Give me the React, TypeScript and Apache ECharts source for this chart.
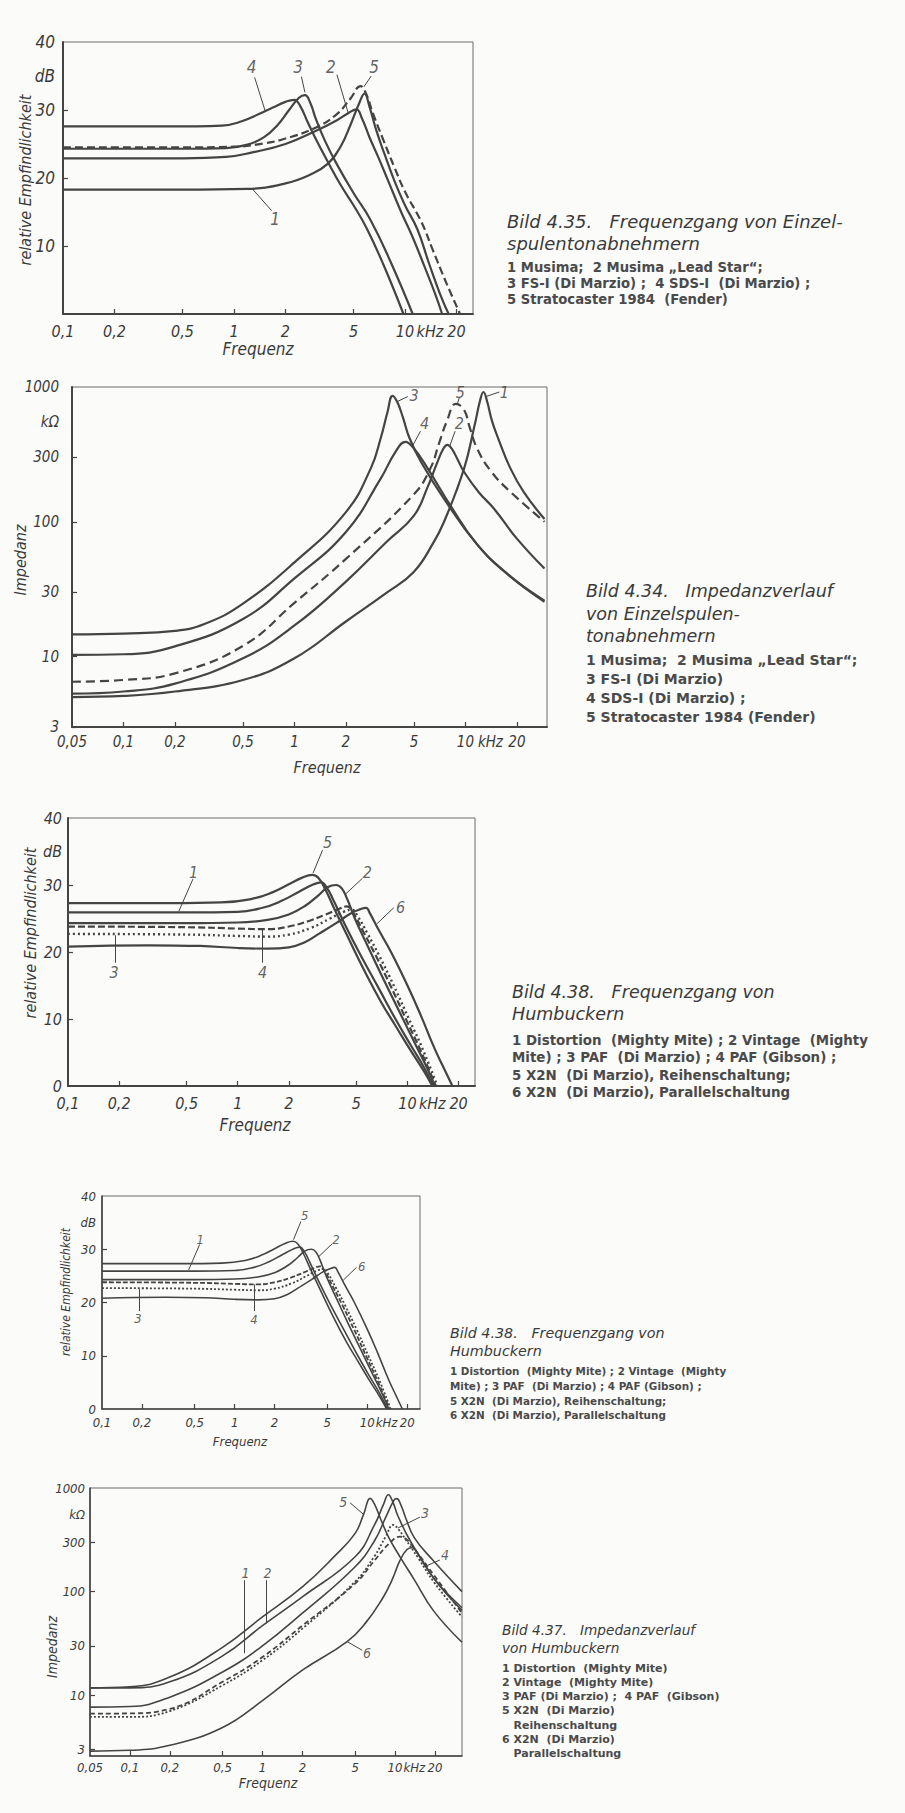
import React, { useEffect, useRef } from "react";
import * as echarts from "echarts";

// ---------- tick labels ----------
const freqTicksA = [0.1, 0.2, 0.5, 1, 2, 5, 10, 14, 20];
const freqLabelsA = ["0,1", "0,2", "0,5", "1", "2", "5", "10", "kHz", "20"];
const freqTicksB = [0.05, 0.1, 0.2, 0.5, 1, 2, 5, 10, 14, 20];
const freqLabelsB = ["0,05", "0,1", "0,2", "0,5", "1", "2", "5", "10", "kHz", "20"];
const dbTicks = [0, 10, 20, 30, 35, 40];
const dbLabels = ["0", "10", "20", "30", "dB", "40"];
const dbTicksNoZero = [10, 20, 30, 35, 40];
const dbLabelsNoZero = ["10", "20", "30", "dB", "40"];
const impTicks = [3, 10, 30, 100, 300, 550, 1000];
const impLabels = ["3", "10", "30", "100", "300", "kΩ", "1000"];

// ---------- Bild 4.35: Frequenzgang Einzelspulen (kHz, dB) ----------
const s435_1 = [[0.1, 18.3], [0.5, 18.3], [1.2, 18.4], [2, 19.2], [2.8, 20.5], [3.5, 22], [4.2, 24.6], [4.8, 27.8], [5.4, 31], [5.8, 32.4], [6.2, 30.5], [6.8, 27], [7.6, 23.5], [8.7, 19.5], [10, 16], [11.8, 12.5], [13.8, 7.5], [16, 3], [18, 0]];
const s435_2 = [[0.1, 22.9], [0.5, 22.9], [0.9, 23.1], [1.3, 23.8], [2, 25], [3, 26.9], [4, 28.5], [4.7, 29.6], [5.2, 30.1], [5.6, 28.8], [6.2, 26], [7, 23], [8, 19.5], [9.5, 15], [11, 11.5], [13, 7], [15, 3], [16.5, 0]];
const s435_3 = [[0.1, 24.3], [0.5, 24.3], [0.9, 24.4], [1.2, 24.9], [1.5, 26], [1.8, 27.8], [2.1, 30], [2.4, 31.8], [2.6, 32.2], [2.8, 31], [3.0, 28.8], [3.4, 25.5], [4, 22], [5, 17.8], [6.3, 13.8], [8.3, 7.5], [11.1, 0]];
const s435_4 = [[0.1, 27.6], [0.3, 27.6], [0.6, 27.6], [0.85, 27.7], [1.1, 28.3], [1.4, 29.4], [1.7, 30.4], [2.0, 31.2], [2.25, 31.5], [2.45, 30.5], [2.7, 28.2], [3.0, 25.8], [3.5, 22.6], [4.2, 19], [5, 16], [6, 12.5], [7.5, 7.2], [9.8, 0]];
const s435_5 = [[0.1, 24.5], [0.5, 24.5], [1, 24.6], [1.5, 25.1], [2, 25.8], [3, 27.4], [4, 29.4], [4.8, 31.7], [5.5, 33.5], [5.9, 32.5], [6.5, 29.5], [7.5, 25.5], [8.7, 21.5], [10, 18], [12.5, 13.5], [14.5, 9.5], [17.5, 4.5], [21, 0]];

// ---------- Bild 4.34: Impedanz Einzelspulen (kHz, kOhm) ----------
const z434_1 = [[0.05, 5.0], [0.1, 5.1], [0.2, 5.5], [0.5, 6.7], [1, 9.7], [2, 18.2], [3.5, 30], [5, 42.6], [6.5, 70], [7.5, 100], [9.8, 246], [11.3, 515], [12.2, 800], [12.75, 918], [13.4, 780], [14.3, 560], [15.5, 420], [18.3, 250], [22, 165], [29, 105]];
const z434_2 = [[0.05, 5.3], [0.1, 5.5], [0.2, 6.3], [0.5, 9.7], [1, 17], [2, 36], [3.5, 72], [5, 111], [6, 180], [6.8, 270], [7.4, 345], [7.85, 372], [8.3, 350], [9, 290], [9.8, 235], [12, 165], [14.7, 125], [20, 75], [29, 45]];
const z434_3 = [[0.05, 14.6], [0.1, 14.8], [0.2, 15.5], [0.3, 17.5], [0.5, 24.7], [1, 50], [2, 118], [2.8, 250], [3.2, 420], [3.5, 650], [3.75, 860], [4.0, 770], [4.3, 600], [4.7, 420], [5.5, 278], [7.5, 148], [11.7, 68], [18, 40], [29, 26]];
const z434_4 = [[0.05, 10.3], [0.1, 10.4], [0.2, 11.9], [0.5, 19], [1, 38], [2, 84], [3.2, 210], [3.9, 330], [4.46, 392], [5, 350], [6, 250], [8.2, 131], [11.7, 68], [18, 40], [29, 25.5]];
const z434_5 = [[0.05, 6.5], [0.1, 6.7], [0.2, 7.5], [0.5, 12], [1, 25], [2, 53], [5, 160], [6.25, 250], [7, 380], [7.8, 560], [8.8, 750], [9.8, 680], [10.6, 500], [11.7, 350], [14, 240], [18.3, 167], [29, 100]];

// ---------- Bild 4.38: Frequenzgang Humbucker (kHz, dB) ----------
const h438_1 = [[0.1, 25.9], [0.5, 25.9], [1.0, 26.0], [1.4, 26.6], [1.8, 27.6], [2.3, 29], [2.8, 30.1], [3.1, 30.4], [3.35, 29.6], [3.7, 27.5], [4.3, 24], [5.3, 19.5], [6.8, 14.5], [8.5, 10], [10.5, 6], [12.5, 2.8], [14.2, 0]];
const h438_2 = [[0.1, 24.3], [0.5, 24.3], [1.0, 24.4], [1.5, 24.8], [2.0, 25.6], [2.5, 26.9], [3.0, 28.5], [3.4, 29.7], [3.8, 30], [4.1, 29.5], [4.4, 28], [4.9, 25], [5.8, 21], [7.2, 16], [9, 11], [11, 6.5], [13, 2.8], [14.5, 0]];
const h438_3 = [[0.1, 22.7], [0.5, 22.6], [1.0, 22.4], [1.5, 22.3], [2.0, 22.6], [2.7, 23.6], [3.5, 25], [4.2, 26], [4.7, 26.3], [5.1, 25.3], [5.8, 22.8], [6.8, 19.5], [8.3, 15], [10.2, 10], [12.3, 5.5], [15, 0]];
const h438_4 = [[0.1, 23.8], [0.5, 23.7], [1.0, 23.5], [1.5, 23.4], [2.0, 23.8], [2.6, 24.6], [3.3, 25.6], [4.0, 26.5], [4.4, 26.8], [4.8, 25.8], [5.5, 23], [6.5, 19.5], [8, 14.8], [10, 9.5], [12, 5.2], [14.7, 0]];
const h438_5 = [[0.1, 27.3], [0.4, 27.3], [0.8, 27.4], [1.2, 27.9], [1.6, 28.9], [2.0, 30.1], [2.4, 31.1], [2.75, 31.5], [3.0, 31], [3.3, 29.2], [3.7, 26.5], [4.5, 22], [5.5, 17.5], [7, 12.5], [8.5, 9], [10.5, 5.2], [12.5, 2.2], [14, 0]];
const h438_6 = [[0.1, 20.8], [0.3, 21], [0.6, 20.9], [1.0, 20.6], [1.5, 20.5], [2.0, 20.7], [2.5, 21.5], [3.0, 22.7], [3.8, 24.3], [4.6, 25.7], [5.3, 26.4], [5.7, 26.6], [6.0, 25.8], [6.8, 23.2], [8, 20], [10, 15], [12, 10.5], [14.5, 5.5], [16.5, 2.5], [18.4, 0]];

// ---------- Bild 4.37: Impedanz Humbucker (kHz, kOhm) ----------
const i437_1 = [[0.05, 7.7], [0.1, 7.8], [0.2, 9.6], [0.5, 16.8], [1, 30], [2, 62], [5, 174], [7, 310], [8.5, 520], [9.8, 760], [10.3, 790], [11, 700], [12, 520], [14, 330], [19.4, 200], [32, 100]];
const i437_2 = [[0.05, 11.8], [0.1, 11.8], [0.2, 13.5], [0.5, 24], [1, 47], [2, 89], [5, 217], [7, 440], [8.2, 700], [8.9, 860], [9.6, 740], [10.5, 540], [13, 310], [20, 130], [32, 66]];
const i437_3 = [[0.05, 6.2], [0.1, 6.2], [0.2, 7.05], [0.5, 12.5], [1, 21.8], [2, 44], [5, 125], [7, 220], [8.5, 340], [9.7, 440], [10.6, 400], [12, 320], [15, 210], [20, 120], [32, 57]];
const i437_4 = [[0.05, 6.65], [0.1, 6.7], [0.2, 7.4], [0.5, 13.5], [1, 23.4], [2, 47], [5, 120], [7, 200], [9, 290], [10.9, 340], [12.5, 310], [15, 230], [20, 140], [32, 62]];
const i437_5 = [[0.05, 11.8], [0.1, 12.1], [0.2, 15], [0.5, 29], [1, 57], [2, 111], [3.5, 220], [5, 365], [5.8, 560], [6.49, 795], [7, 700], [7.8, 500], [9, 330], [10.9, 217], [14, 130], [19.4, 66], [32, 32.5]];
const i437_6 = [[0.05, 2.9], [0.1, 2.95], [0.2, 3.3], [0.5, 4.9], [1, 8.9], [2, 17.5], [4.35, 33], [6, 50], [8, 85], [9.5, 130], [10.9, 200], [12.3, 255], [13.5, 265], [15, 230], [20, 130], [32, 70]];

// ---------- curve number annotations (data space) ----------
const notes435 = [
  { t: "4", at: [1.27, 36.3], from: [1.32, 34.8], to: [1.52, 29.9] },
  { t: "3", at: [2.37, 36.3], from: [2.48, 34.9], to: [2.6, 32.6] },
  { t: "2", at: [3.69, 36.3], from: [4.0, 35.2], to: [4.65, 29.6] },
  { t: "5", at: [6.6, 36.3], from: [6.35, 35], to: [5.75, 33.4] },
  { t: "1", at: [1.74, 14], from: [1.66, 15.2], to: [1.29, 18.3] },
];
const notes434 = [
  { t: "3", at: [5.0, 860], from: [4.6, 850], to: [4.0, 780] },
  { t: "4", at: [5.76, 532], from: [5.46, 470], to: [4.9, 365] },
  { t: "5", at: [9.35, 918], from: [9.2, 830], to: [9.0, 760] },
  { t: "2", at: [9.2, 532], from: [8.7, 470], to: [8.1, 365] },
  { t: "1", at: [16.9, 918], from: [15.8, 918], to: [13.2, 850] },
];
const notes438 = [
  { t: "5", at: [3.38, 36.3], from: [3.16, 35.2], to: [2.78, 31.8] },
  { t: "2", at: [5.8, 31.8], from: [5.43, 31.0], to: [4.3, 28.6] },
  { t: "6", at: [9.1, 26.7], from: [8.3, 26.6], to: [6.6, 24.2] },
  { t: "1", at: [0.55, 31.9], from: [0.545, 30.9], to: [0.45, 26.1] },
  { t: "3", at: [0.187, 17.0], from: [0.19, 18.4], to: [0.19, 22.5] },
  { t: "4", at: [1.4, 16.9], from: [1.4, 18.4], to: [1.4, 23.4] },
];
const notes437 = [
  { t: "5", at: [4.07, 732], from: [4.58, 720], to: [5.75, 560] },
  { t: "3", at: [16.8, 573], from: [15.4, 524], to: [10.5, 411] },
  { t: "4", at: [23.8, 225], from: [21.8, 202], to: [17.7, 180] },
  { t: "1", at: [0.745, 151], from: [0.73, 129], to: [0.73, 25.5] },
  { t: "2", at: [1.09, 151], from: [1.07, 129], to: [1.07, 49.6] },
  { t: "6", at: [6.15, 25.5], from: [5.65, 27.2], to: [4.35, 33] },
];

// ---------- captions ----------
const cap435 = ["Bild 4.35.   Frequenzgang von Einzel-", "spulentonabnehmern"];
const leg435 = ["1 Musima;  2 Musima „Lead Star“;", "3 FS-I (Di Marzio) ;  4 SDS-I  (Di Marzio) ;", "5 Stratocaster 1984  (Fender)"];
const cap434 = ["Bild 4.34.   Impedanzverlauf", "von Einzelspulen-", "tonabnehmern"];
const leg434 = ["1 Musima;  2 Musima „Lead Star“;", "3 FS-I (Di Marzio)", "4 SDS-I (Di Marzio) ;", "5 Stratocaster 1984 (Fender)"];
const cap438 = ["Bild 4.38.   Frequenzgang von", "Humbuckern"];
const leg438 = ["1 Distortion  (Mighty Mite) ; 2 Vintage  (Mighty", "Mite) ; 3 PAF  (Di Marzio) ; 4 PAF (Gibson) ;", "5 X2N  (Di Marzio), Reihenschaltung;", "6 X2N  (Di Marzio), Parallelschaltung"];
const cap437 = ["Bild 4.37.   Impedanzverlauf", "von Humbuckern"];
const leg437 = ["1 Distortion  (Mighty Mite)", "2 Vintage  (Mighty Mite)", "3 PAF (Di Marzio) ;  4 PAF  (Gibson)", "5 X2N  (Di Marzio)", "   Reihenschaltung", "6 X2N  (Di Marzio)", "   Parallelschaltung"];

const INK = "#444444";
const TXT = "#3a3a3a";
const LEG = "#4a4a4a";
const AXFONT = "'Liberation Sans Narrow', 'DejaVu Sans Condensed', Roboto, sans-serif";
const CAPFONT = "'DejaVu Sans', 'Open Sans', sans-serif";

function nearest(vals: number[], labels: string[], log: boolean) {
  return (v: number) => {
    let bi = 0;
    let bd = Infinity;
    vals.forEach((x, i) => {
      const d = log ? Math.abs(Math.log(x) - Math.log(v)) : Math.abs(x - v);
      if (d < bd) { bd = d; bi = i; }
    });
    return labels[bi];
  };
}

function xAxis(gi: number, min: number, max: number, vals: number[], labels: string[], fs: number, margin: number, lw: number) {
  return {
    type: "log", logBase: 10, gridIndex: gi, min, max,
    axisLine: { show: true, onZero: false, lineStyle: { color: INK, width: lw } },
    axisTick: { show: true, inside: true, length: 5, customValues: vals.filter((v) => v !== 14 && v !== min), lineStyle: { color: INK, width: 1.2 } },
    axisLabel: { show: true, customValues: vals, formatter: nearest(vals, labels, true), fontSize: fs, fontStyle: "italic", fontFamily: AXFONT, color: TXT, margin },
    splitLine: { show: false }, minorTick: { show: false },
  };
}

function yValAxis(gi: number, vals: number[], labels: string[], ticks: number[], fs: number, margin: number, lw: number) {
  return {
    type: "value", gridIndex: gi, min: 0, max: 40, interval: 10,
    axisLine: { show: true, lineStyle: { color: INK, width: lw } },
    axisTick: { show: true, inside: true, length: 5, customValues: ticks, lineStyle: { color: INK, width: 1.2 } },
    axisLabel: { show: true, customValues: vals, formatter: nearest(vals, labels, false), fontSize: fs, fontStyle: "italic", fontFamily: AXFONT, color: TXT, margin },
    splitLine: { show: false },
  };
}

function yLogAxis(gi: number, min: number, fs: number, margin: number, lw: number) {
  return {
    type: "log", logBase: 10, gridIndex: gi, min, max: 1000,
    axisLine: { show: true, lineStyle: { color: INK, width: lw } },
    axisTick: { show: true, inside: true, length: 5, customValues: [3, 10, 30, 100, 300], lineStyle: { color: INK, width: 1.2 } },
    axisLabel: { show: true, customValues: impTicks, formatter: nearest(impTicks, impLabels, true), fontSize: fs, fontStyle: "italic", fontFamily: AXFONT, color: TXT, margin },
    splitLine: { show: false }, minorTick: { show: false },
  };
}

function curve(gi: number, data: number[][], type: any = "solid", width = 2.2) {
  return {
    type: "line", xAxisIndex: gi, yAxisIndex: gi, data, symbol: "none", showSymbol: false,
    smooth: 0.45, silent: true, z: 3,
    lineStyle: { color: INK, width, type, cap: "butt", join: "round" },
  };
}

function notes(gi: number, list: any[], fs: number) {
  return [
    {
      type: "scatter", xAxisIndex: gi, yAxisIndex: gi, symbolSize: 1, silent: true, z: 4,
      itemStyle: { color: "rgba(0,0,0,0)" },
      data: list.map((n) => ({ name: n.t, value: n.at })),
      label: { show: true, position: "inside", formatter: (p: any) => p.name, fontSize: fs, fontStyle: "italic", fontFamily: AXFONT, color: TXT },
    },
    {
      type: "lines", coordinateSystem: "cartesian2d", xAxisIndex: gi, yAxisIndex: gi, silent: true, z: 4,
      symbol: "none",
      data: list.map((n) => ({ coords: [n.from, n.to] })),
      lineStyle: { color: INK, width: 1, opacity: 1, curveness: 0 },
    },
  ];
}

function textBlock(x: number, y0: number, lines: string[], step: number, fs: number, italic: boolean, weight: any, fill: string) {
  return lines.map((s, i) => ({
    type: "text", x, y: y0 + i * step, silent: true,
    style: { text: s, fontSize: fs, fontStyle: italic ? "italic" : "normal", fontWeight: weight, fontFamily: CAPFONT, fill, align: "left", verticalAlign: "middle" },
  }));
}

function axisTitle(x: number, y: number, text: string, fs: number, rotate: boolean) {
  return {
    type: "text", x, y, rotation: rotate ? Math.PI / 2 : 0, silent: true,
    style: { text, fontSize: fs, fontStyle: "italic", fontFamily: AXFONT, fill: TXT, align: "center", verticalAlign: "middle" },
  };
}

export default function App() {
  const ref = useRef<HTMLDivElement>(null);
  useEffect(() => {
    if (!ref.current) return;
    const chart = echarts.init(ref.current, null, { renderer: "svg" });
    const gridBase = { show: true, borderColor: "#6a6a6a", borderWidth: 1, backgroundColor: "transparent", containLabel: false, outerBoundsMode: "none" };
    const option: any = {
      animation: false,
      backgroundColor: "#fbfbf9",
      grid: [
        { ...gridBase, left: 63, top: 42, width: 410, height: 272 },
        { ...gridBase, left: 72, top: 387, width: 475, height: 340 },
        { ...gridBase, left: 68, top: 818, width: 407, height: 268 },
        { ...gridBase, left: 102, top: 1196, width: 318, height: 213 },
        { ...gridBase, left: 90, top: 1488, width: 372, height: 268 },
      ],
      xAxis: [
        xAxis(0, 0.1, 25, freqTicksA, freqLabelsA, 16, 9, 2),
        xAxis(1, 0.05, 30, freqTicksB, freqLabelsB, 15, 7, 2),
        xAxis(2, 0.1, 25, freqTicksA, freqLabelsA, 16, 9, 2),
        xAxis(3, 0.1, 25, freqTicksA, freqLabelsA, 13, 7, 1.6),
        xAxis(4, 0.05, 32, freqTicksB, freqLabelsB, 13, 5, 1.6),
      ],
      yAxis: [
        yValAxis(0, dbTicksNoZero, dbLabelsNoZero, [10, 20, 30], 17, 8, 2),
        yLogAxis(1, 3, 15, 13, 2),
        yValAxis(2, dbTicks, dbLabels, [10, 20, 30], 16, 6, 2),
        yValAxis(3, dbTicks, dbLabels, [10, 20, 30], 13, 6, 1.6),
        yLogAxis(4, 2.6, 13, 5, 1.6),
      ],
      series: [
        curve(0, s435_1), curve(0, s435_2), curve(0, s435_3), curve(0, s435_4), curve(0, s435_5, [8, 4], 2.2),
        ...notes(0, notes435, 17),
        curve(1, z434_1), curve(1, z434_2), curve(1, z434_3), curve(1, z434_4), curve(1, z434_5, [9, 5], 2.2),
        ...notes(1, notes434, 16),
        curve(2, h438_1), curve(2, h438_2), curve(2, h438_3, [2, 3], 2.4), curve(2, h438_4, [7, 3], 2.2), curve(2, h438_5), curve(2, h438_6),
        ...notes(2, notes438, 16),
        curve(3, h438_1, "solid", 1.6), curve(3, h438_2, "solid", 1.6), curve(3, h438_3, [2, 2], 1.8), curve(3, h438_4, [5, 2], 1.8), curve(3, h438_5, "solid", 1.6), curve(3, h438_6, "solid", 1.6),
        ...notes(3, notes438, 13),
        curve(4, i437_1, "solid", 1.6), curve(4, i437_2, "solid", 1.6), curve(4, i437_3, [2, 2], 1.8), curve(4, i437_4, [5, 3], 1.8), curve(4, i437_5, "solid", 1.6), curve(4, i437_6, "solid", 1.6),
        ...notes(4, notes437, 14),
      ],
      graphic: [
        axisTitle(25, 180, "relative Empfindlichkeit", 16, true),
        axisTitle(258, 349, "Frequenz", 17, false),
        axisTitle(20, 560, "Impedanz", 16, true),
        axisTitle(327, 767, "Frequenz", 16, false),
        axisTitle(30, 933, "relative Empfindlichkeit", 16, true),
        axisTitle(255, 1125, "Frequenz", 17, false),
        axisTitle(66, 1292, "relative Empfindlichkeit", 12, true),
        axisTitle(240, 1441, "Frequenz", 13, false),
        axisTitle(52, 1647, "Impedanz", 14, true),
        axisTitle(268, 1783, "Frequenz", 14, false),
        ...textBlock(507, 221, cap435, 22, 18, true, "normal", TXT),
        ...textBlock(507, 267, leg435, 16, 13.2, false, "bold", LEG),
        ...textBlock(586, 591, cap434, 22.5, 17.5, true, "normal", TXT),
        ...textBlock(586, 660, leg434, 19, 14, false, "bold", LEG),
        ...textBlock(512, 992, cap438, 21.5, 17.5, true, "normal", TXT),
        ...textBlock(512, 1040, leg438, 17.5, 13.4, false, "bold", LEG),
        ...textBlock(450, 1333, cap438, 18, 14.3, true, "normal", TXT),
        ...textBlock(450, 1371, leg438, 14.8, 10.4, false, "bold", LEG),
        ...textBlock(502, 1630, cap437, 18, 13.7, true, "normal", TXT),
        ...textBlock(502, 1668, leg437, 14.3, 11, false, "bold", LEG),
      ],
    };
    chart.setOption(option);
    return () => chart.dispose();
  }, []);
  return <div ref={ref} style={{ position: "absolute", left: 0, top: 0, width: 905, height: 1813 }} />;
}
